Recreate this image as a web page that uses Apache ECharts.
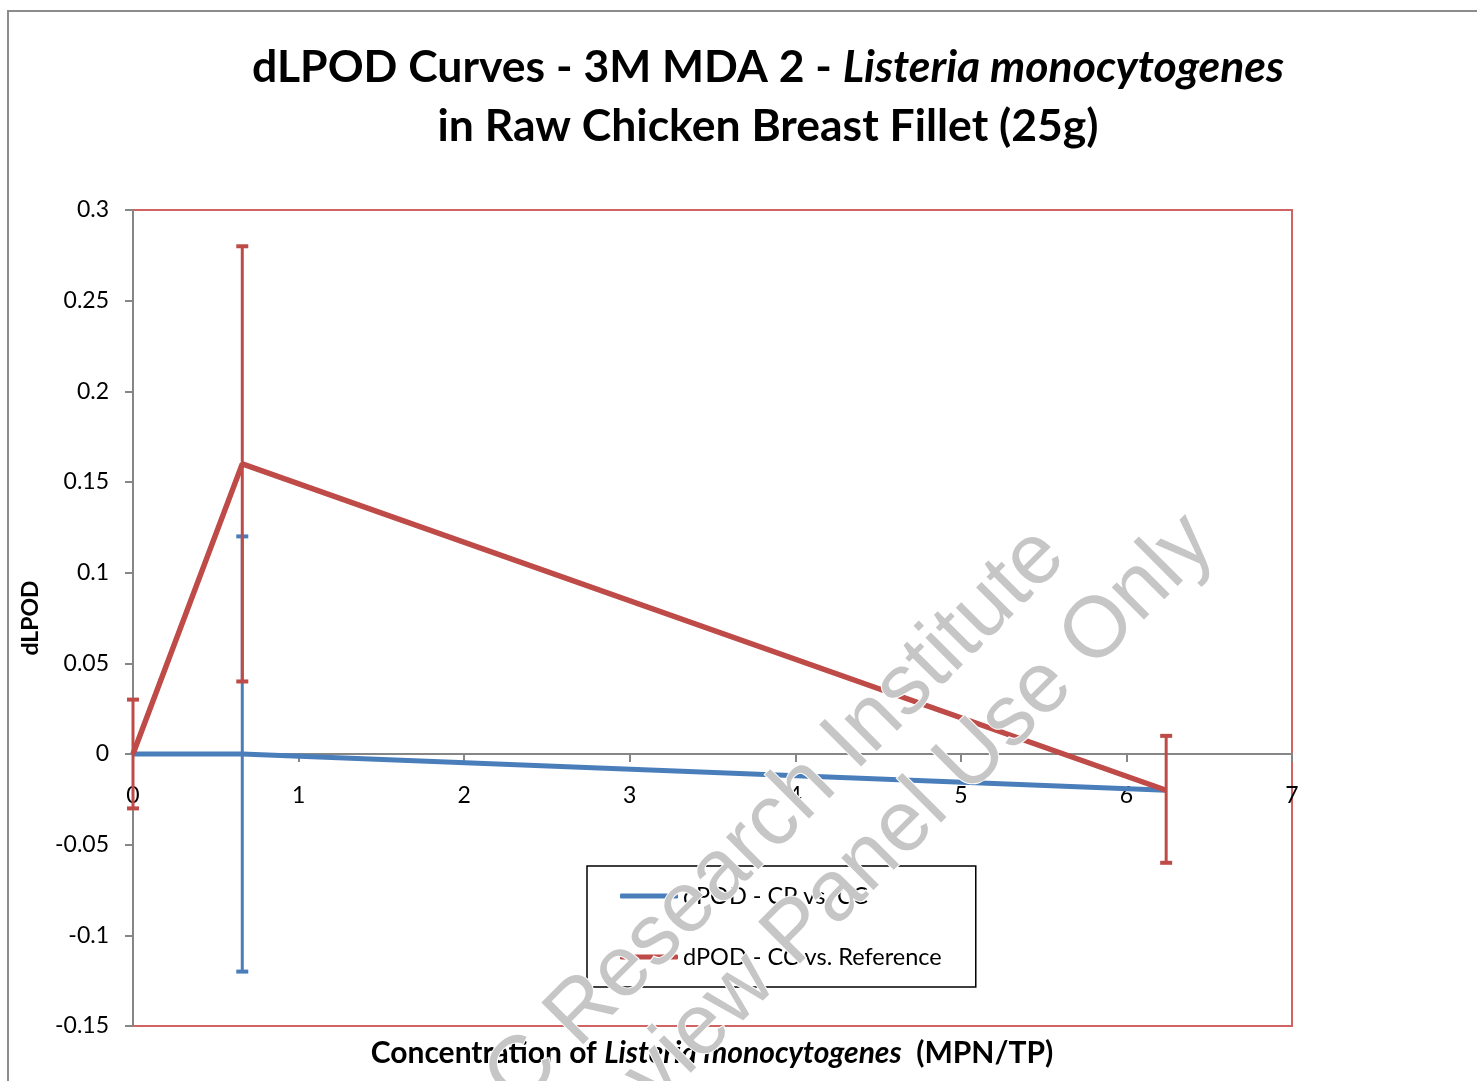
<!DOCTYPE html>
<html>
<head>
<meta charset="utf-8">
<script src="https://cdn.jsdelivr.net/npm/echarts@6/dist/echarts.min.js"></script>
<style>html,body{margin:0;padding:0;background:#fff}#c{width:1477px;height:1081px}</style>
</head>
<body>
<div id="c"></div>
<script>
// ---- data ----
const seriesNames = ['dPOD - CP vs. CC', 'dPOD - CC vs. Reference'];
const xValues = [0, 0.66, 6.24];
const cpVsCC = [0, 0, -0.02];
const ccVsRef = [0, 0.16, -0.02];
const cpErrLow = [0, -0.12, -0.02];
const cpErrHigh = [0, 0.12, -0.02];
const refErrLow = [-0.03, 0.04, -0.06];
const refErrHigh = [0.03, 0.28, 0.01];
const xTicks = [0, 1, 2, 3, 4, 5, 6, 7];
const yTicks = [-0.15, -0.1, -0.05, 0, 0.05, 0.1, 0.15, 0.2, 0.25, 0.3];

const BLUE = '#4a7ebb';
const RED = '#be4b48';
const FONT = 'Lato';

const GRID_TOP = 210, GRID_BOTTOM = 55, H = 1081;
const yMin = yTicks[0], yMax = yTicks[yTicks.length - 1];
const plotH = H - GRID_TOP - GRID_BOTTOM;
// shift x axis from the bottom edge up to the y = 0 line
const xAxisOffset = -Math.round(plotH * (0 - yMin) / (yMax - yMin));

const chart = echarts.init(document.getElementById('c'));

function pairs(xs, ys) { return xs.map((x, i) => [x, ys[i]]); }
function errData(xs, lo, hi) { return xs.map((x, i) => [x, lo[i], hi[i]]); }
function errRender(color) {
  return function (params, api) {
    const x = api.value(0), lo = api.value(1), hi = api.value(2);
    if (lo === hi) return null;
    const a = api.coord([x, lo]), b = api.coord([x, hi]);
    const hw = 6;
    return {
      type: 'group',
      children: [
        { type: 'line', shape: { x1: a[0], y1: a[1], x2: b[0], y2: b[1] }, style: { stroke: color, lineWidth: 3 } },
        { type: 'line', shape: { x1: a[0] - hw, y1: a[1], x2: a[0] + hw, y2: a[1] }, style: { stroke: color, lineWidth: 4 } },
        { type: 'line', shape: { x1: b[0] - hw, y1: b[1], x2: b[0] + hw, y2: b[1] }, style: { stroke: color, lineWidth: 4 } }
      ]
    };
  };
}

const option = {
  animation: false,
  backgroundColor: '#fff',
  grid: {
    left: 133, right: 185, top: GRID_TOP, bottom: GRID_BOTTOM,
    show: true, borderColor: '#d06464', borderWidth: 2, backgroundColor: 'transparent'
  },
  xAxis: {
    type: 'value', min: xTicks[0], max: xTicks[xTicks.length - 1], interval: 1,
    position: 'bottom', offset: xAxisOffset,
    axisLine: { onZero: false, lineStyle: { color: '#868686', width: 2 } },
    axisTick: { show: true, length: 8, lineStyle: { color: '#868686', width: 2 } },
    axisLabel: { color: '#000', fontFamily: FONT, fontSize: 23, margin: 30 },
    splitLine: { show: false }
  },
  yAxis: {
    type: 'value', min: yMin, max: yMax, interval: 0.05,
    name: 'dLPOD', nameLocation: 'middle', nameGap: 91, nameRotate: 90,
    nameTextStyle: { color: '#000', fontFamily: FONT, fontWeight: 'bold', fontSize: 23 },
    axisLine: { onZero: false, lineStyle: { color: '#868686', width: 2 } },
    axisTick: { show: true, length: 8, lineStyle: { color: '#868686', width: 2 } },
    axisLabel: {
      color: '#000', fontFamily: FONT, fontSize: 23, margin: 24,
      formatter: v => String(+v.toFixed(2))
    },
    splitLine: { show: false }
  },
  legend: {
    orient: 'vertical', left: 587, top: 866,
    padding: [18, 34, 18, 33], itemGap: 37,
    borderColor: '#000', borderWidth: 1.5, backgroundColor: '#fff',
    itemWidth: 58, itemHeight: 5, icon: 'roundRect',
    textStyle: { color: '#000', fontFamily: FONT, fontSize: 23.5, lineHeight: 24 },
    data: seriesNames
  },
  series: [
    {
      name: seriesNames[0], type: 'line', data: pairs(xValues, cpVsCC),
      showSymbol: false, symbol: 'none', lineStyle: { color: BLUE, width: 5 }, itemStyle: { color: BLUE }, z: 2
    },
    {
      name: seriesNames[0] + ' err', type: 'custom', data: errData(xValues, cpErrLow, cpErrHigh),
      renderItem: errRender(BLUE), z: 3, silent: true
    },
    {
      name: seriesNames[1], type: 'line', data: pairs(xValues, ccVsRef),
      showSymbol: false, symbol: 'none', lineStyle: { color: RED, width: 5.5 }, itemStyle: { color: RED }, z: 4
    },
    {
      name: seriesNames[1] + ' err', type: 'custom', data: errData(xValues, refErrLow, refErrHigh),
      renderItem: errRender(RED), z: 5, silent: true
    }
  ],
  graphic: [
    {
      type: 'rect', shape: { x: 8, y: 11, width: 1600, height: 1200 },
      style: { fill: 'none', stroke: '#8c8c8c', lineWidth: 2 }, z: -10, silent: true
    },
    {
      type: 'text', x: 768, y: 68, z: 50,
      style: {
        text: '{b|dLPOD Curves - 3M MDA 2 - }{bi|Listeria monocytogenes}',
        align: 'center', verticalAlign: 'middle',
        rich: {
          b: { fontFamily: FONT, fontWeight: 'bold', fontSize: 44.5, fill: '#000' },
          bi: { fontFamily: FONT, fontWeight: 'bold', fontStyle: 'italic', fontSize: 44.5, fill: '#000' }
        }
      }
    },
    {
      type: 'text', x: 768, y: 127, z: 50,
      style: {
        text: 'in Raw Chicken Breast Fillet (25g)',
        align: 'center', verticalAlign: 'middle',
        fontFamily: FONT, fontWeight: 'bold', fontSize: 44.5, fill: '#000'
      }
    },
    {
      type: 'text', x: 712, y: 1053, z: 50,
      style: {
        text: '{b|Concentration of }{bi|Listeria monocytogenes}{b|  (MPN/TP)}',
        align: 'center', verticalAlign: 'middle',
        rich: {
          b: { fontFamily: FONT, fontWeight: 'bold', fontSize: 30, fill: '#000' },
          bi: { fontFamily: FONT, fontWeight: 'bold', fontStyle: 'italic', fontSize: 30, fill: '#000' }
        }
      }
    },
    {
      type: 'text', x: 712, y: 882, rotation: Math.PI / 4, z: 100, silent: true,
      style: {
        text: 'AOAC Research Institute', align: 'center', verticalAlign: 'middle',
        font: '86px "Liberation Sans"', fill: '#c6c6c6', stroke: '#ffffff', lineWidth: 2
      }
    },
    {
      type: 'text', x: 785, y: 945, rotation: Math.PI / 4, z: 100, silent: true,
      style: {
        text: 'Expert Review Panel Use Only', align: 'center', verticalAlign: 'middle',
        font: '86px "Liberation Sans"', fill: '#c6c6c6', stroke: '#ffffff', lineWidth: 2
      }
    }
  ]
};
chart.setOption(option);
</script>
</body>
</html>
